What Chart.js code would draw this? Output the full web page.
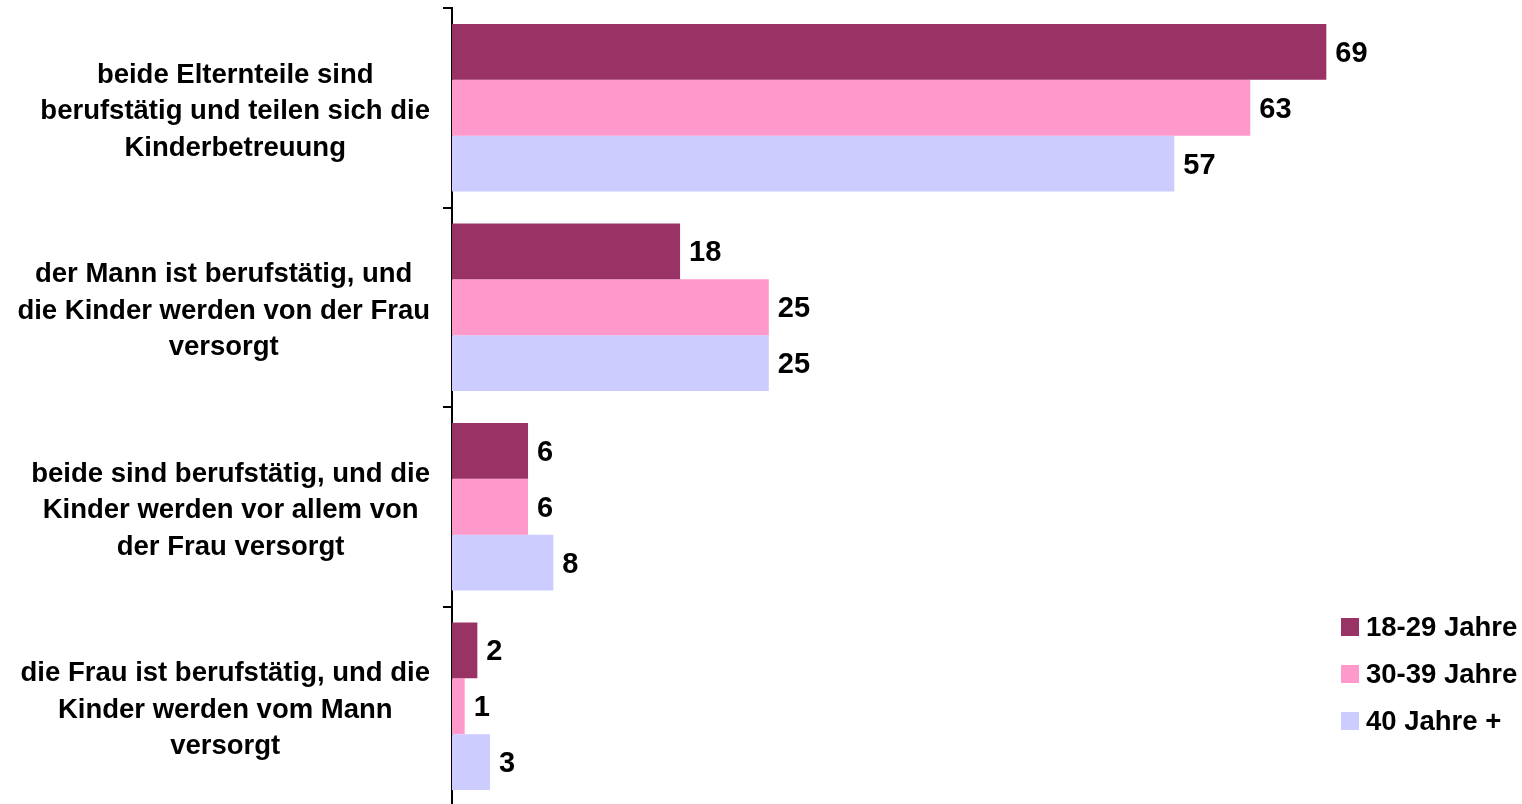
<!DOCTYPE html>
<html><head><meta charset="utf-8">
<script src="https://cdn.jsdelivr.net/npm/chart.js@4/dist/chart.umd.min.js"></script>
<style>
html,body{margin:0;padding:0;background:#fff;overflow:hidden;}
#wrap{position:relative;width:1522px;height:806px;}
</style></head><body>
<div id="wrap"><canvas id="c"></canvas></div>
<script>
const categories = [
  ["beide Elternteile sind", "berufstätig und teilen sich die", "Kinderbetreuung"],
  ["der Mann ist berufstätig, und", "die Kinder werden von der Frau", "versorgt"],
  ["beide sind berufstätig, und die", "Kinder werden vor allem von", "der Frau versorgt"],
  ["die Frau ist berufstätig, und die", "Kinder werden vom Mann", "versorgt"]
];
const seriesNames = ["18-29 Jahre", "30-39 Jahre", "40 Jahre +"];
const values18_29 = [69, 18, 6, 2];
const values30_39 = [63, 25, 6, 1];
const values40plus = [57, 25, 8, 3];
const colors = ["#993366", "#FF99CC", "#CCCCFF"];

const FONT = "'Liberation Sans', Arial, sans-serif";

const labelPlugin = {
  id: 'custom',
  afterDatasetsDraw(chart) {
    const ctx = chart.ctx;
    const yScale = chart.scales.y;
    ctx.save();
    ctx.fillStyle = '#000';
    ctx.font = "bold 27.5px " + FONT;
    ctx.textBaseline = 'middle';
    ctx.textAlign = 'center';
    const lh = 36.5;
    chart.data.labels.forEach((lines, i) => {
      const cy = yScale.getPixelForTick(i);
      let maxW = 0;
      lines.forEach(l => { maxW = Math.max(maxW, ctx.measureText(l).width); });
      const cx = 430 - maxW / 2;
      lines.forEach((l, j) => {
        ctx.fillText(l, cx, cy + (j - (lines.length - 1) / 2) * lh + 4);
      });
    });
    ctx.font = "bold 29px " + FONT;
    ctx.textAlign = 'left';
    chart.data.datasets.forEach((ds, di) => {
      const meta = chart.getDatasetMeta(di);
      meta.data.forEach((bar, i) => {
        ctx.fillText(String(ds.data[i]), bar.x + 9, bar.y + 2);
      });
    });
    ctx.font = "bold 27.5px " + FONT;
    const lx = 1341, ly0 = 627, step = 47;
    chart.data.datasets.forEach((ds, di) => {
      const y = ly0 + di * step;
      ctx.fillStyle = ds.backgroundColor;
      ctx.fillRect(lx, y - 9, 18, 18);
      ctx.fillStyle = '#000';
      ctx.fillText(ds.label, lx + 25, y + 1);
    });
    ctx.restore();
  }
};

new Chart(document.getElementById('c'), {
  type: 'bar',
  data: {
    labels: categories,
    datasets: [
      { label: seriesNames[0], data: values18_29, backgroundColor: colors[0] },
      { label: seriesNames[1], data: values30_39, backgroundColor: colors[1] },
      { label: seriesNames[2], data: values40plus, backgroundColor: colors[2] }
    ]
  },
  options: {
    indexAxis: 'y',
    responsive: true,
    maintainAspectRatio: false,
    animation: false,
    layout: { padding: { top: 8, right: 183, bottom: 0, left: 0 } },
    datasets: { bar: { categoryPercentage: 0.84, barPercentage: 1.0, borderWidth: 0 } },
    plugins: { legend: { display: false }, tooltip: { enabled: false } },
    scales: {
      x: { display: false, min: 0, max: 70 },
      y: {
        offset: true,
        ticks: { display: false },
        grid: { offset: true, drawOnChartArea: false, drawTicks: true, tickLength: 9, color: '#000', lineWidth: 2 },
        border: { display: true, color: '#000', width: 2 },
        afterFit(scale) { scale.width = 452; }
      }
    }
  },
  plugins: [labelPlugin]
});
</script>
</body></html>
